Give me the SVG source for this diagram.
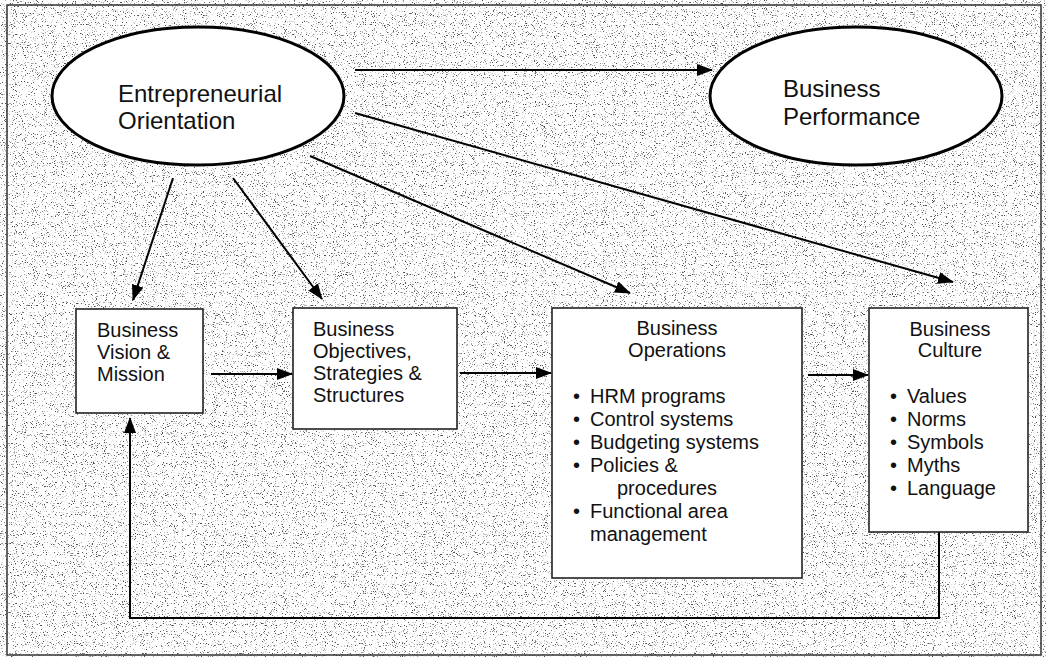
<svg xmlns="http://www.w3.org/2000/svg" width="1046" height="657" viewBox="0 0 1046 657">
  <defs>
    <filter id="grain" filterUnits="userSpaceOnUse" x="0" y="0" width="1046" height="657">
      <feTurbulence type="fractalNoise" baseFrequency="0.9" numOctaves="2" seed="7" result="n"/>
      <feColorMatrix in="n" type="matrix" values="0 0 0 0 0  0 0 0 0 0  0 0 0 0 0  -7 0 0 0 2.75"/>
    </filter>
    <marker id="arr" viewBox="0 0 16 12" refX="15" refY="6" markerWidth="16" markerHeight="12" markerUnits="userSpaceOnUse" orient="auto">
      <path d="M0,0 L16,6 L0,12 Z" fill="#000"/>
    </marker>
    <style>
      .t { font-family: "Liberation Sans", Arial, sans-serif; fill: #111; }
      .big { font-size: 24px; }
      .sm { font-size: 20px; }
      .ell { fill: #fff; stroke: #000; stroke-width: 3; }
      .box { fill: #fff; stroke: #222; stroke-width: 1.6; }
      .con { fill: none; stroke: #000; stroke-width: 2; }
    </style>
  </defs>

  <rect x="0" y="0" width="1046" height="657" fill="#fff"/>
  <rect x="0" y="0" width="1046" height="657" fill="#000" filter="url(#grain)" opacity="0.7"/>
  <rect x="7" y="5" width="1034" height="650" fill="none" stroke="#333" stroke-width="1.5"/>

  <g id="connectors">
    <line class="con" x1="355" y1="70" x2="712" y2="70" marker-end="url(#arr)"/>
    <line class="con" x1="173" y1="178" x2="133" y2="300" marker-end="url(#arr)"/>
    <line class="con" x1="233" y1="178" x2="322" y2="299" marker-end="url(#arr)"/>
    <line class="con" x1="310" y1="156" x2="630" y2="293" marker-end="url(#arr)"/>
    <line class="con" x1="355" y1="113" x2="953" y2="282" marker-end="url(#arr)"/>
    <line class="con" x1="211" y1="374" x2="292" y2="374" marker-end="url(#arr)"/>
    <line class="con" x1="460" y1="373" x2="551" y2="373" marker-end="url(#arr)"/>
    <line class="con" x1="808" y1="375" x2="868" y2="375" marker-end="url(#arr)"/>
    <polyline class="con" points="939,532 939,618 130,618 130,418" marker-end="url(#arr)"/>
  </g>

  <g id="entrepreneurial-orientation">
    <ellipse class="ell" cx="198" cy="96" rx="146" ry="69"/>
    <text class="t big" x="118" y="102">Entrepreneurial</text>
    <text class="t big" x="118" y="129">Orientation</text>
  </g>

  <g id="business-performance">
    <ellipse class="ell" cx="856" cy="96" rx="146" ry="69"/>
    <text class="t big" x="783" y="97">Business</text>
    <text class="t big" x="783" y="125">Performance</text>
  </g>

  <g id="vision-mission">
    <rect class="box" x="76" y="309" width="127" height="104"/>
    <text class="t sm" x="97" y="337">Business</text>
    <text class="t sm" x="97" y="359">Vision &amp;</text>
    <text class="t sm" x="97" y="381">Mission</text>
  </g>

  <g id="objectives">
    <rect class="box" x="293" y="308" width="164" height="121"/>
    <text class="t sm" x="313" y="336">Business</text>
    <text class="t sm" x="313" y="358">Objectives,</text>
    <text class="t sm" x="313" y="380">Strategies &amp;</text>
    <text class="t sm" x="313" y="402">Structures</text>
  </g>

  <g id="operations">
    <rect class="box" x="552" y="308" width="250" height="270"/>
    <text class="t sm" x="677" y="335" text-anchor="middle">Business</text>
    <text class="t sm" x="677" y="357" text-anchor="middle">Operations</text>
    <g class="t sm">
      <text x="573" y="403">•</text><text x="590" y="403">HRM programs</text>
      <text x="573" y="426">•</text><text x="590" y="426">Control systems</text>
      <text x="573" y="449">•</text><text x="590" y="449">Budgeting systems</text>
      <text x="573" y="472">•</text><text x="590" y="472">Policies &amp;</text>
      <text x="617" y="495">procedures</text>
      <text x="573" y="518">•</text><text x="590" y="518">Functional area</text>
      <text x="590" y="541">management</text>
    </g>
  </g>

  <g id="culture">
    <rect class="box" x="869" y="308" width="159" height="224"/>
    <text class="t sm" x="950" y="336" text-anchor="middle">Business</text>
    <text class="t sm" x="950" y="357" text-anchor="middle">Culture</text>
    <g class="t sm">
      <text x="890" y="403">•</text><text x="907" y="403">Values</text>
      <text x="890" y="426">•</text><text x="907" y="426">Norms</text>
      <text x="890" y="449">•</text><text x="907" y="449">Symbols</text>
      <text x="890" y="472">•</text><text x="907" y="472">Myths</text>
      <text x="890" y="495">•</text><text x="907" y="495">Language</text>
    </g>
  </g>
</svg>
